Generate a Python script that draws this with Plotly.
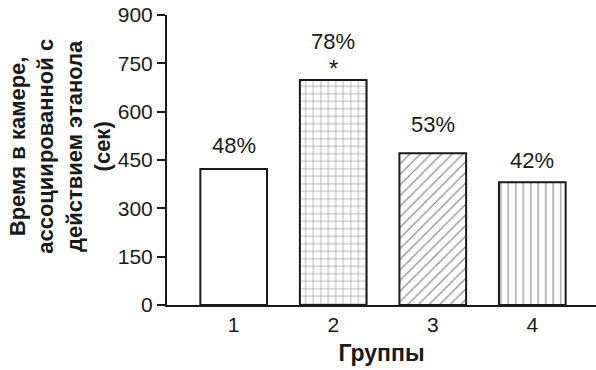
import plotly.graph_objects as go

# Groups and time spent in the ethanol-paired chamber (s)
groups = [1, 2, 3, 4]
group_labels = ["1", "2", "3", "4"]
time_sec = [422, 698, 471, 381]
percent_labels = ["48%", "78%", "53%", "42%"]
significance = ["", "*", "", ""]

y_ticks = [0, 150, 300, 450, 600, 750, 900]

# bar fill patterns: blank, grid, diagonal hatch, vertical hatch
patterns = ["", "+", "/", "|"]
label_shift = [9, 24, 14, 7]

FONT = "Arial, Liberation Sans, sans-serif"
INK = "#1a1a1a"

fig = go.Figure()
fig.add_trace(go.Bar(
    x=groups,
    y=time_sec,
    width=0.67,
    marker=dict(
        color="white",
        line=dict(color=INK, width=2),
        pattern=dict(shape=patterns, fillmode="overlay", fgcolor=INK,
                     bgcolor="white", size=7.5, solidity=0.16),
    ),
    showlegend=False,
    hoverinfo="skip",
))

for g, v, p, s, dy in zip(groups, time_sec, percent_labels, significance, label_shift):
    fig.add_annotation(x=g, y=v, text=p, showarrow=False, yanchor="bottom",
                       yshift=dy, font=dict(family=FONT, size=22, color=INK))
    if s:
        fig.add_annotation(x=g, y=v, text=s, showarrow=False, yanchor="bottom",
                           yshift=-4, font=dict(family=FONT, size=24, color=INK))

# rotated y-axis title, four lines
fig.add_annotation(
    xref="paper", yref="paper", x=-0.250, y=0.548,
    text="<b>Время в камере,<br>ассоциированной с<br>действием этанола<br>(сек)</b>",
    textangle=-90, showarrow=False, xanchor="center", yanchor="middle",
    font=dict(family=FONT, size=22, color=INK), align="center",
)

fig.update_layout(
    width=596, height=370,
    margin=dict(l=167, r=0, t=15, b=65),
    paper_bgcolor="white", plot_bgcolor="white",
    font=dict(family=FONT, color=INK),
    xaxis=dict(
        range=[0.33, 4.64], tickvals=groups, ticktext=group_labels,
        showline=True, linecolor=INK, linewidth=2, ticks="",
        showgrid=False, zeroline=False,
        tickfont=dict(size=21, color=INK),
        title=dict(text="<b>Группы</b>", font=dict(size=23, color=INK), standoff=10),
    ),
    yaxis=dict(
        range=[0, 900], tickvals=y_ticks,
        showline=True, linecolor=INK, linewidth=2,
        ticks="outside", ticklen=8, tickwidth=1.5, tickcolor=INK,
        showgrid=False, zeroline=False,
        tickfont=dict(size=21, color=INK),
    ),
)

fig.write_html("out.html")
